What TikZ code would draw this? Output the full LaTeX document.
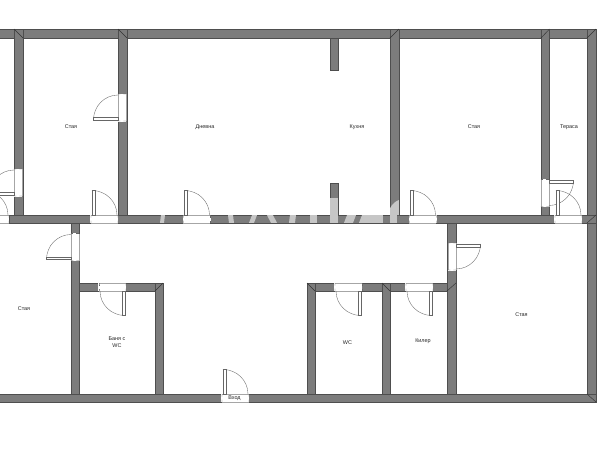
\documentclass[tikz,border=0pt]{standalone}
\usepackage{fontspec}
\setmainfont{Liberation Sans}
\usetikzlibrary{calc}
\definecolor{wallgray}{HTML}{7C7C7C}
\definecolor{walledge}{HTML}{4E4E4E}
\definecolor{doorgray}{HTML}{666666}
\definecolor{fadedgray}{HTML}{C6C6C6}
\tikzset{
	wall/.style={fill=wallgray, draw=walledge, line width=0.2pt},
	mitre/.style={draw=black!80, line width=0.25pt},
	doorline/.style={draw=doorgray, line width=0.2pt},
	faded/.style={fill=fadedgray},
	roomlabel/.style={font=\fontsize{3.1}{3.7}\selectfont, text=black!85, align=center, inner sep=0pt},
}
% door: hinge at #2, wall on the negative y side, room on the positive y side
\def\doorway[#1](#2){
	\begin{scope}[shift={(#2)},#1]
		\fill[white] (-1.5, -8.4) rectangle (26.5, 0.4);
		\draw[doorline, draw=black!35] (-1, 0) -- (26, 0);
		\draw[doorline, draw=black!35] (-1, -8) -- (26, -8);
		\draw[doorline] (-1, 0) .. controls (-2, -1) and (0, -1.5) .. (-1, -2.5);
		\draw[doorline] (26, 0) .. controls (25, -1) and (27, -1.5) .. (26, -2.5);
		\draw[doorline] (-1, -8) .. controls (-2, -7) and (0, -6.5) .. (-1, -5.5);
		\draw[doorline] (26, -8) .. controls (25, -7) and (27, -6.5) .. (26, -5.5);
		\draw[doorline, fill=white] (0, 0) rectangle (2.8, 24.5);
		\draw[doorline] (0, 24.5) arc (90:0:25 and 24.5);
	\end{scope}
}
\begin{document}
\begin{tikzpicture}[x=0.02cm, y=-0.02cm]
	\useasboundingbox (0, 0) rectangle (600, 450);
	\fill[white] (0, 0) rectangle (600, 450);
	\clip (0, 0) rectangle (600, 450);

	%%%%% WALLS %%%%%
	\draw[wall] (-5, 29) rectangle (596, 38);
	\draw[wall] (14, 29) rectangle (23, 215);
	\draw[wall] (118, 29) rectangle (127, 215);
	\draw[wall] (390, 29) rectangle (399, 215);
	\draw[wall] (541, 29) rectangle (549.5, 215);
	\draw[wall] (587, 29) rectangle (596, 402);
	\draw[wall] (9, 215) rectangle (596, 223);
	\draw[wall] (71, 223) rectangle (79, 394);
	\draw[wall] (79, 283) rectangle (163, 291);
	\draw[wall] (155, 283) rectangle (163, 394);
	\draw[wall] (307, 283) rectangle (456, 291);
	\draw[wall] (307, 283) rectangle (315, 394);
	\draw[wall] (382, 283) rectangle (390, 394);
	\draw[wall] (447, 223) rectangle (456, 394);
	\draw[wall] (-5, 394) rectangle (596, 402);
	\draw[wall] (330, 38) rectangle (338, 70);
	\draw[wall] (330, 183) rectangle (338, 215);

	%%%%% FADED PATCHES %%%%%
	\foreach \xa/\xb/\xc/\xd in {161/165/160/164, 228/233/229/234, 252/257/249/254, 267/273/271/277,
		290/296/289/295, 310/317/310/317, 347/356/344/353, 362/383/359/383, 390/397/390/397} {
		\fill[faded] (\xa, 215.2) -- (\xb, 215.2) -- (\xd, 222.8) -- (\xc, 222.8) -- cycle;
	}
	\fill[faded] (330.2, 198) rectangle (337.8, 223);
	\fill[faded] (390.2, 215) arc (180:90:0 and 0) -- (390.2, 208) .. controls (392, 204) and (396, 201) .. (398.8, 200) -- (398.8, 215) -- cycle;

	%%%%% MITRES %%%%%
	\draw[mitre] (14, 29) -- (23, 38);
	\draw[mitre] (118, 29) -- (127, 38);
	\draw[mitre] (390, 38) -- (399, 29);
	\draw[mitre] (541, 38) -- (549.5, 29);
	\draw[mitre] (587, 38) -- (596, 29);
	\draw[mitre] (587, 223) -- (596, 215);
	\draw[mitre] (155, 291) -- (163, 283);
	\draw[mitre] (307, 283) -- (315, 291);
	\draw[mitre] (382, 283) -- (390, 291);
	\draw[mitre] (447, 291) -- (456, 283);
	\draw[mitre] (587, 394) -- (596, 402);

	%%%%% DOORS %%%%%
	\doorway[rotate=90, yscale=-1](118, 120)
	\doorway[rotate=90, yscale=-1](14, 195)
	\doorway[rotate=90, yscale=-1](71, 259.5)
	\doorway[rotate=90, xscale=-1](456, 244)
	\doorway[rotate=90, xscale=-1](549, 180.5)
	\doorway[yscale=-1](-17, 215)
	\doorway[yscale=-1](92, 215)
	\doorway[yscale=-1](184.5, 215)
	\doorway[yscale=-1](410.5, 215)
	\doorway[yscale=-1](556, 215)
	\doorway[yscale=-1](223, 394)
	\doorway[xscale=-1](125, 291)
	\doorway[xscale=-1](361, 291)
	\doorway[xscale=-1](432, 291)

	%%%%% LABELS %%%%%
	\node[roomlabel] (terasaleft) at (-9, 127) {Тераса};
	\node[roomlabel] (stayaone) at (71, 127) {Стая};
	\node[roomlabel] (dnevna) at (205, 127) {Дневна};
	\node[roomlabel] (kuhnya) at (357, 127.5) {Кухня};
	\node[roomlabel] (stayatwo) at (474, 127) {Стая};
	\node[roomlabel] (terasa) at (569, 127) {Тераса};
	\node[roomlabel] (stayathree) at (24, 309) {Стая};
	\node[roomlabel] (banya) at (117, 342) {Баня с\\WC};
	\node[roomlabel] (wc) at (347.5, 342.5) {WC};
	\node[roomlabel] (kiler) at (423, 341.5) {Килер};
	\node[roomlabel] (stayafour) at (521.5, 314.5) {Стая};
	\node[roomlabel] (vhod) at (234.5, 398) {Вход};
\end{tikzpicture}
\end{document}
